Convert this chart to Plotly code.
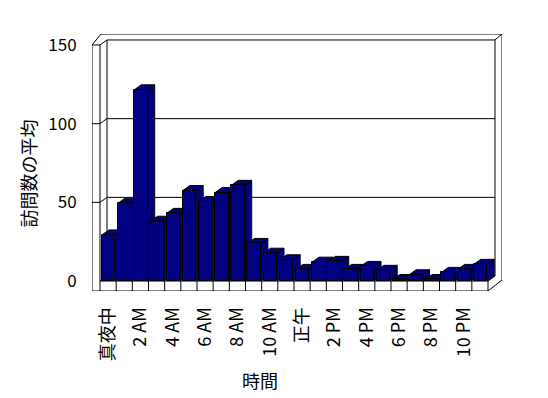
import plotly.graph_objects as go

# ---------------- data ----------------
hours = list(range(24))
visits = [29.3, 49.5, 121.5, 38.0, 43.0, 57.5, 50.5, 56.2, 60.8, 23.9, 17.7, 13.5,
          7.4, 12.0, 12.5, 7.4, 9.3, 6.8, 1.0, 4.0, 1.0, 5.5, 7.4, 10.6]
tick_hours = [0, 2, 4, 6, 8, 10, 12, 14, 16, 18, 20, 22]
tick_labels = ["真夜中", "2 AM", "4 AM", "6 AM", "8 AM", "10 AM",
               "正午", "2 PM", "4 PM", "6 PM", "8 PM", "10 PM"]
y_ticks = [0, 50, 100, 150]
y_title = "訪問数の平均"
x_title = "時間"

# ---------------- geometry (pixel scale of the oblique 3-D look) ----------------
PX_CAT = 16.17      # pixels per category
PX_UNIT = 1.578     # pixels per value unit
X0, X1 = -0.5, 23.5
Y1 = 150
DX, DY = 7 / PX_CAT, 5 / PX_UNIT        # depth of floor / bars
WL = 8 / PX_CAT                          # left wall thickness
FB = 10 / PX_UNIT                        # floor slab thickness
BX, BY = 7 / PX_CAT, 6 / PX_UNIT         # back wall thickness
BAR_W = 0.83
BAR_OFF = -0.38

NAVY = "#000080"
BLACK = "black"
FONT = "Noto Sans CJK JP"

shapes = []


def poly(pts, fill="white", lw=1):
    path = "M " + " L ".join(f"{x},{y}" for x, y in pts) + " Z"
    shapes.append(dict(type="path", path=path, xref="x", yref="y",
                       fillcolor=fill, line=dict(color=BLACK, width=lw), layer="below"))


def seg(p, q, lw=1):
    shapes.append(dict(type="line", x0=p[0], y0=p[1], x1=q[0], y1=q[1],
                       xref="x", yref="y", line=dict(color=BLACK, width=lw), layer="below"))


# outer silhouette of walls + floor
A = (X0 - WL, Y1)
B = (X0, Y1)
C = (X0 + DX, Y1 + DY)
D = (X1 + DX, Y1 + DY)
E = (X1 + DX + BX, Y1 + DY + BY)
F = (X0 - WL + 9 / PX_CAT, Y1 + DY + BY)
G = (X0 - WL, -FB)
H = (X1, -FB)
I = (X1 + DX + BX, -FB + DY + BY)
poly([A, F, E, I, H, G])

# left wall front face edge
seg(B, (X0, -FB))
seg(A, B)
# top edges
seg(B, C)
seg(C, D)
seg(D, E)
# back wall corners
seg(C, (X0 + DX, DY))
seg(D, (X1 + DX, DY))
# floor
seg((X0 + DX, DY), (X1 + DX, DY))
seg((X0, 0), (X1, 0))
seg((X0, 0), (X0 + DX, DY))
seg((X1, 0), (X1 + DX, DY))
seg((X1, 0), (X1, -FB))
for k in range(1, 24):
    seg((k - 0.5, 0), (k - 0.5, -FB))

# gridlines on back wall + left wall
for v in y_ticks[1:-1]:
    seg((X0 + DX, v + DY), (X1 + DX, v + DY))
    seg((X0, v), (X0 + DX, v + DY))
    seg((X0 - WL, v), (X0, v))

# bar tops and sides (fronts come from the bar trace)
for h, v in zip(hours, visits):
    x0 = h + BAR_OFF
    x1 = x0 + BAR_W
    poly([(x1, 0), (x1, v), (x1 + DX, v + DY), (x1 + DX, DY)], fill=NAVY)
    poly([(x0, v), (x1, v), (x1 + DX, v + DY), (x0 + DX, v + DY)], fill=NAVY)

fig = go.Figure()
fig.add_trace(go.Bar(
    x=hours, y=visits, width=BAR_W, offset=BAR_OFF,
    marker=dict(color=NAVY, line=dict(color=BLACK, width=1)),
    hoverinfo="x+y",
))

# page body has an 8px margin, so the figure is 8px smaller than the window
fig.update_layout(
    width=540, height=390, autosize=False,
    margin=dict(l=84, r=46, t=26, b=107, pad=0),
    paper_bgcolor="white", plot_bgcolor="white",
    showlegend=False, bargap=0,
    font=dict(family=FONT, size=18, color=BLACK),
    shapes=shapes,
    xaxis=dict(
        range=[X0 - WL, X1 + DX + BX], tickmode="array",
        tickvals=tick_hours, ticktext=tick_labels, tickangle=-90,
        showgrid=False, zeroline=False, showline=False,
        ticks="outside", ticklen=8, tickcolor="rgba(0,0,0,0)",
        tickfont=dict(family=FONT, size=18, color=BLACK), automargin=False,
    ),
    yaxis=dict(
        range=[-FB, Y1 + DY + BY], tickmode="array", tickvals=y_ticks,
        showgrid=False, zeroline=False, showline=False,
        ticks="outside", ticklen=11, tickcolor="rgba(0,0,0,0)",
        tickfont=dict(family=FONT, size=17, color=BLACK), automargin=False,
    ),
    annotations=[
        dict(text=y_title, xref="paper", yref="paper", x=(27.5 - 92) / 410, y=(291 - 174) / 257,
             xanchor="center", yanchor="middle", textangle=-90, showarrow=False,
             font=dict(family=FONT, size=18, color=BLACK)),
        dict(text=x_title, xref="paper", yref="paper", x=(259.6 - 92) / 410, y=(291 - 380) / 257,
             xanchor="center", yanchor="middle", showarrow=False,
             font=dict(family=FONT, size=18, color=BLACK)),
    ],
)

fig.write_html("out.html")
